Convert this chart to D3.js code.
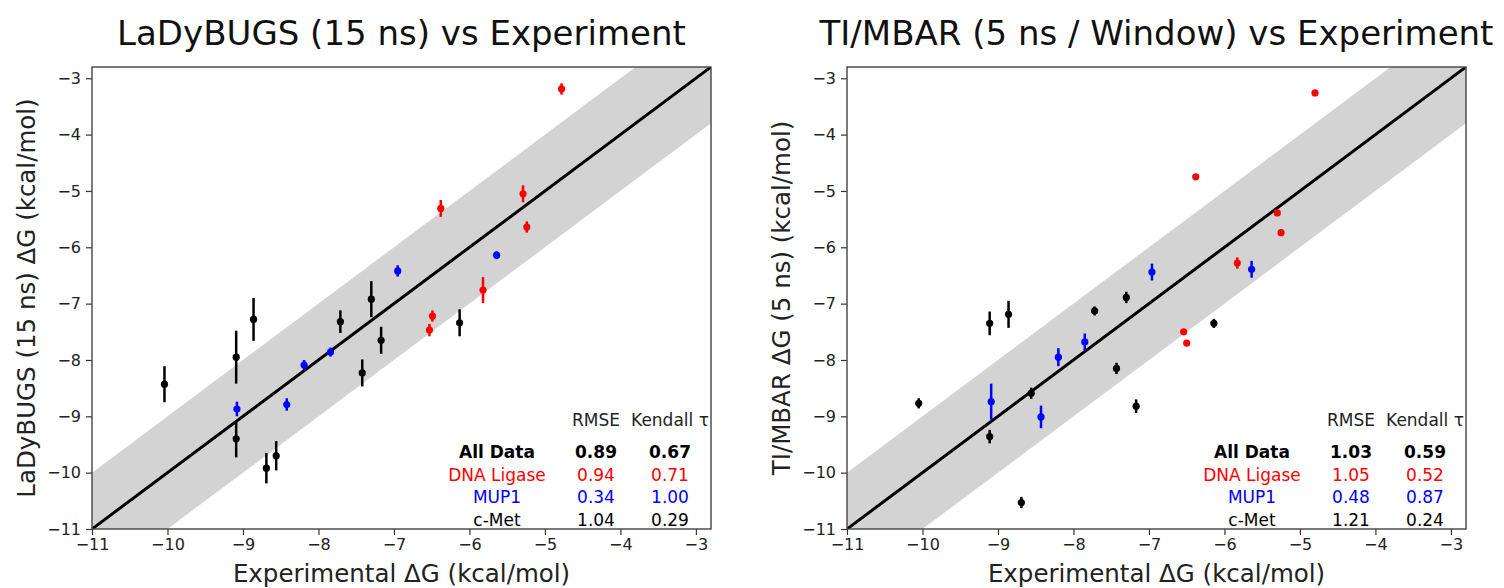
<!DOCTYPE html>
<meta charset="utf-8">
<script src="https://d3js.org/d3.v7.min.js"></script>
<style>
  body { margin: 0; background: #fff; }
  svg text { font-family: "DejaVu Sans", sans-serif; }
</style>
<div id="chart"></div>
<script>

// ---- data: [experimental dG, predicted dG, error] ----
// LaDyBUGS (15 ns)
var ladyCMet = [
  [-10.04, -8.43, 0.32], [-9.09, -7.95, 0.47], [-9.09, -9.40, 0.33],
  [-8.86, -7.28, 0.38], [-8.69, -9.92, 0.27], [-8.56, -9.70, 0.26],
  [-7.71, -7.32, 0.20], [-7.42, -8.23, 0.24], [-7.30, -6.92, 0.32],
  [-7.17, -7.65, 0.24], [-6.13, -7.34, 0.24]
];
var ladyMUP1 = [
  [-9.08, -8.87, 0.13], [-8.42, -8.79, 0.11], [-8.19, -8.09, 0.09],
  [-7.84, -7.86, 0.08], [-6.95, -6.42, 0.10], [-5.64, -6.14, 0.07]
];
var ladyLigase = [
  [-6.53, -7.47, 0.11], [-6.49, -7.22, 0.10], [-5.82, -6.76, 0.23],
  [-6.38, -5.31, 0.15], [-5.29, -5.05, 0.15], [-5.24, -5.64, 0.10],
  [-4.78, -3.19, 0.10]
];

// TI/MBAR (5 ns / window)
var tiCMet = [
  [-10.05, -8.77, 0.09], [-9.11, -7.35, 0.21], [-9.11, -9.36, 0.12],
  [-8.86, -7.19, 0.24], [-8.69, -10.53, 0.10], [-8.56, -8.59, 0.10],
  [-7.72, -7.13, 0.08], [-7.43, -8.15, 0.10], [-7.30, -6.89, 0.10],
  [-7.17, -8.82, 0.12], [-6.14, -7.35, 0.08]
];
var tiMUP1 = [
  [-9.09, -8.74, 0.32], [-8.43, -9.01, 0.20], [-8.20, -7.95, 0.16],
  [-7.85, -7.68, 0.15], [-6.96, -6.44, 0.15], [-5.64, -6.39, 0.15]
];
var tiLigase = [
  [-6.38, -4.75, 0.02], [-5.30, -5.39, 0.02], [-5.25, -5.74, 0.02],
  [-5.83, -6.28, 0.10], [-4.80, -3.26, 0.02], [-6.54, -7.50, 0.02],
  [-6.50, -7.70, 0.02]
];

var tickValues = [-11, -10, -9, -8, -7, -6, -5, -4, -3];
var axisDomain = [-11, -2.8];

// statistics tables
var statRows = ["All Data", "DNA Ligase", "MUP1", "c-Met"];
var rowColors = ["black", "red", "blue", "black"];
var ladyRMSE = ["0.89", "0.94", "0.34", "1.04"];
var ladyTau = ["0.67", "0.71", "1.00", "0.29"];
var tiRMSE = ["1.03", "1.05", "0.48", "1.21"];
var tiTau = ["0.59", "0.52", "0.87", "0.24"];

var panels = [
  {
    title: "LaDyBUGS (15 ns) vs Experiment",
    ylabel: "LaDyBUGS (15 ns) \u0394G (kcal/mol)",
    left: 92, groups: [ladyCMet, ladyMUP1, ladyLigase],
    rmse: ladyRMSE, tau: ladyTau
  },
  {
    title: "TI/MBAR (5 ns / Window) vs Experiment",
    ylabel: "TI/MBAR \u0394G (5 ns) (kcal/mol)",
    left: 847, groups: [tiCMet, tiMUP1, tiLigase],
    rmse: tiRMSE, tau: tiTau
  }
];
var groupColors = ["black", "blue", "red"];

var W = 1504, H = 588;
var marginTop = 67, plotW = 619, plotH = 462;

var svg = d3.select("#chart")
  .append("svg")
    .attr("width", W)
    .attr("height", H);

panels.forEach(function(p) {
  var g = svg.append("g")
      .attr("transform", "translate(" + p.left + "," + marginTop + ")");

  var x = d3.scaleLinear().domain(axisDomain).range([0, plotW]);
  var y = d3.scaleLinear().domain(axisDomain).range([plotH, 0]);

  var clipId = "clip" + p.left;
  g.append("clipPath").attr("id", clipId)
    .append("rect").attr("width", plotW).attr("height", plotH);

  var inner = g.append("g").attr("clip-path", "url(#" + clipId + ")");

  // +/- 1 kcal/mol band
  var band = [-12, -2];
  inner.append("path")
      .datum(band)
      .attr("d", d3.area()
        .x(function(d) { return x(d); })
        .y0(function(d) { return y(d - 1); })
        .y1(function(d) { return y(d + 1); }))
      .attr("fill", "#d3d3d3");

  // identity line
  inner.append("line")
      .attr("x1", x(-12)).attr("y1", y(-12))
      .attr("x2", x(-2)).attr("y2", y(-2))
      .attr("stroke", "black")
      .attr("stroke-width", 3);

  // error bars + points
  p.groups.forEach(function(data, i) {
    var col = groupColors[i];
    inner.selectAll(null)
        .data(data)
        .enter()
        .append("line")
          .attr("x1", function(d) { return x(d[0]); })
          .attr("x2", function(d) { return x(d[0]); })
          .attr("y1", function(d) { return y(d[1] - d[2]); })
          .attr("y2", function(d) { return y(d[1] + d[2]); })
          .attr("stroke", col)
          .attr("stroke-width", 2.5);
    inner.selectAll(null)
        .data(data)
        .enter()
        .append("circle")
          .attr("cx", function(d) { return x(d[0]); })
          .attr("cy", function(d) { return y(d[1]); })
          .attr("r", 3.6)
          .attr("fill", col);
  });

  // axes
  var xAxis = g.append("g")
      .attr("transform", "translate(0," + plotH + ")")
      .call(d3.axisBottom(x).tickValues(tickValues).tickSizeOuter(0).tickSize(6).tickPadding(4));
  var yAxis = g.append("g")
      .call(d3.axisLeft(y).tickValues(tickValues).tickSizeOuter(0).tickSize(6).tickPadding(5));
  [xAxis, yAxis].forEach(function(a) {
    a.select(".domain").remove();
    a.selectAll("line").attr("stroke", "#333").attr("stroke-width", 1.2);
    a.selectAll("text").style("font-size", "16px").attr("fill", "#222");
  });

  // frame
  g.append("rect")
      .attr("width", plotW).attr("height", plotH)
      .attr("fill", "none")
      .attr("stroke", "#444")
      .attr("stroke-width", 1.4);

  // title and labels
  g.append("text")
      .attr("x", plotW / 2).attr("y", -22)
      .attr("text-anchor", "middle")
      .style("font-size", "34px")
      .attr("fill", "#111")
      .text(p.title);
  g.append("text")
      .attr("x", plotW / 2).attr("y", plotH + 53)
      .attr("text-anchor", "middle")
      .style("font-size", "24.5px")
      .attr("fill", "#222")
      .text("Experimental \u0394G (kcal/mol)");
  g.append("text")
      .attr("transform", "translate(" + (-57) + "," + (plotH / 2) + ") rotate(-90)")
      .attr("text-anchor", "middle")
      .style("font-size", "24.5px")
      .attr("fill", "#222")
      .text(p.ylabel);

  // stats table
  var t = g.append("g").style("font-size", "17px");
  t.append("text").attr("x", plotW - 115).attr("y", plotH - 103)
      .attr("text-anchor", "middle").attr("fill", "#222").text("RMSE");
  t.append("text").attr("x", plotW - 41).attr("y", plotH - 103)
      .attr("text-anchor", "middle").attr("fill", "#222").text("Kendall \u03c4");
  statRows.forEach(function(name, i) {
    var yy = plotH - 71 + i * 22.5;
    var w = i === 0 ? "bold" : "normal";
    t.append("text").attr("x", plotW - 214).attr("y", yy)
        .attr("text-anchor", "middle").attr("fill", rowColors[i])
        .attr("font-weight", w).text(name);
    t.append("text").attr("x", plotW - 115).attr("y", yy)
        .attr("text-anchor", "middle").attr("fill", rowColors[i])
        .attr("font-weight", w).text(p.rmse[i]);
    t.append("text").attr("x", plotW - 41).attr("y", yy)
        .attr("text-anchor", "middle").attr("fill", rowColors[i])
        .attr("font-weight", w).text(p.tau[i]);
  });
});

</script>
